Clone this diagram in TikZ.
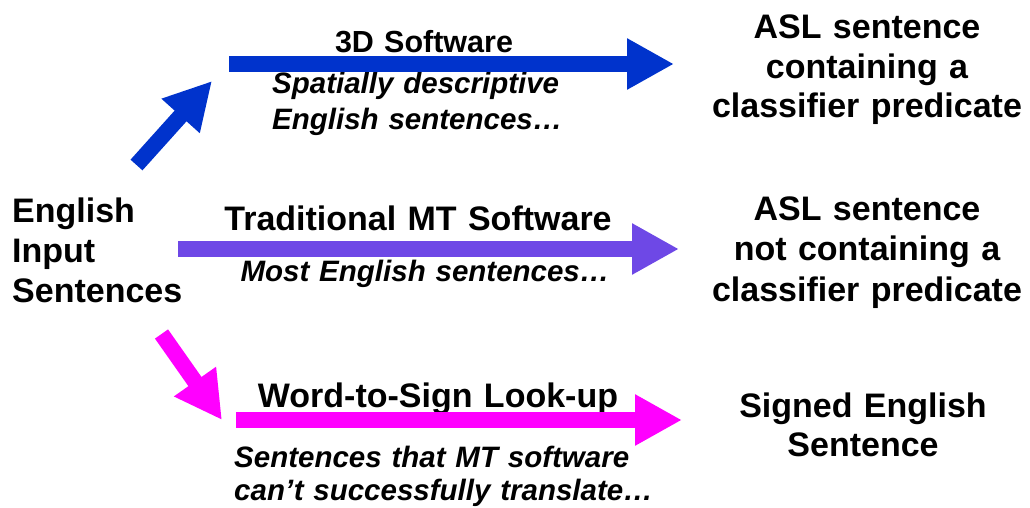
\documentclass[tikz,border=0pt]{standalone}
\usepackage{fontspec}
\setmainfont{Liberation Sans}
\usetikzlibrary{arrows.meta}
\definecolor{arrowblue}{RGB}{0,51,204}
\definecolor{arrowviolet}{RGB}{110,72,230}
\definecolor{arrowmagenta}{RGB}{255,0,255}
\begin{document}
\begin{tikzpicture}[x=1pt,y=-1pt,
  title/.style={font=\bfseries\fontsize{34}{40}\selectfont, inner sep=0pt,
    text width=460pt, align=center, anchor=base},
  subtitle/.style={font=\bfseries\fontsize{30.5}{36}\selectfont, inner sep=0pt,
    text width=460pt, align=center, anchor=base},
  note/.style={font=\bfseries\itshape\fontsize{29.5}{36}\selectfont, inner sep=0pt,
    text width=460pt, align=left, anchor=base west},
  blockarrow/.style={line width=16pt, -{Triangle[length=47pt,width=48pt]}}
]
\useasboundingbox (0,0) rectangle (1030,508);

% source and targets
\node[title, text width=220pt, align=left, anchor=base west] (input) at (12,222)
  {English\\Input\\Sentences};
\node[title, font=\bfseries\fontsize{34}{39.5}\selectfont] (asl1) at (867,39)
  {ASL sentence\\containing a\\classifier predicate};
\node[title, font=\bfseries\fontsize{34}{40.5}\selectfont] (asl2) at (867,220)
  {ASL sentence\\not containing a\\classifier predicate};
\node[title, font=\bfseries\fontsize{34}{39}\selectfont] (signed) at (863,417)
  {Signed English\\Sentence};

% method labels
\node[subtitle] (m3d) at (424,53) {3D Software};
\node[title] (mmt) at (418,230) {Traditional MT Software};
\node[title] (mlookup) at (438,407) {Word-to-Sign Look-up};

% descriptions
\node[note] (d3d) at (272,94) {Spatially descriptive\\English sentences…};
\node[note, align=center, anchor=base] (dmt) at (425,281) {Most English sentences…};
\node[note, font=\bfseries\itshape\fontsize{29.5}{33}\selectfont] (dlookup) at (234,467)
  {Sentences that MT software\\can’t successfully translate…};

% arrow end points
\coordinate (bd0) at (136.5,165);
\coordinate (bd1) at (212,81);
\coordinate (bh0) at (229,64);
\coordinate (bh1) at (674,64);
\coordinate (vh0) at (178,249);
\coordinate (vh1) at (679,249);
\coordinate (md0) at (161.5,334);
\coordinate (md1) at (222,420);
\coordinate (mh0) at (236,420);
\coordinate (mh1) at (682,420);

\draw[blockarrow, arrowblue] (bd0) -- (bd1);
\draw[blockarrow, arrowblue] (bh0) -- (bh1);
\draw[blockarrow, arrowviolet] (vh0) -- (vh1);
\draw[blockarrow, arrowmagenta] (md0) -- (md1);
\draw[blockarrow, arrowmagenta] (mh0) -- (mh1);
\end{tikzpicture}
\end{document}
